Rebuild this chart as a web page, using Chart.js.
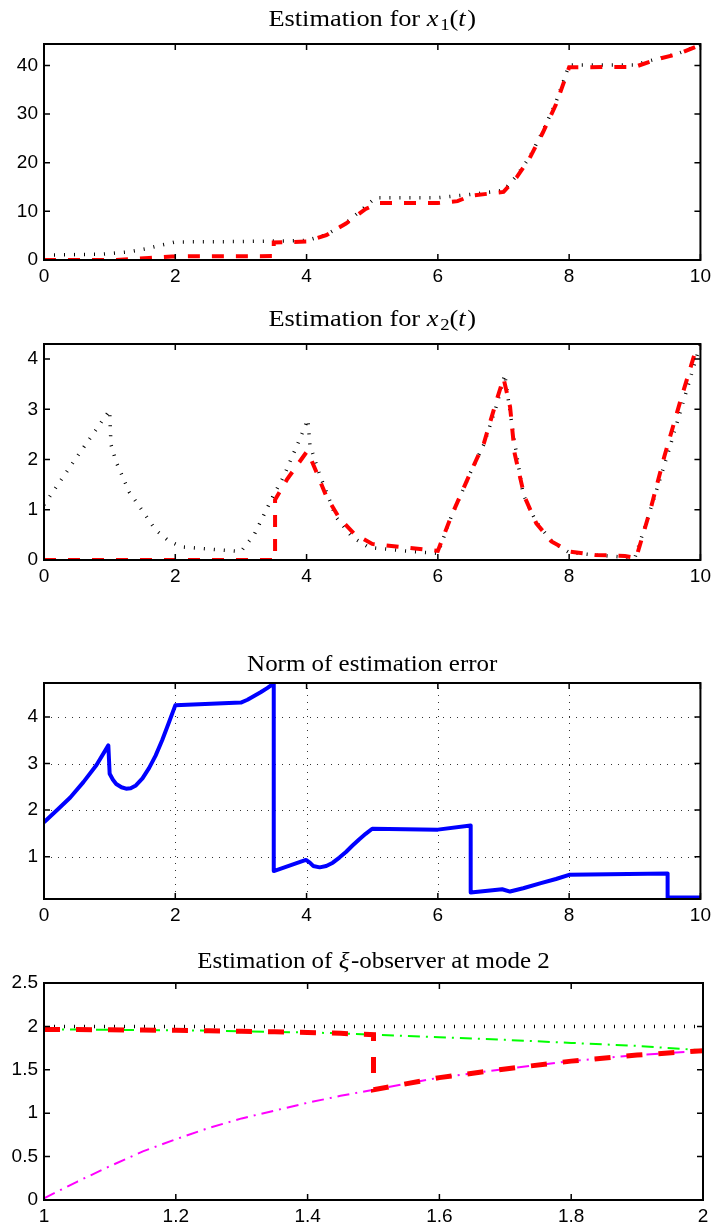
<!DOCTYPE html>
<html><head><meta charset="utf-8">
<script src="https://cdn.jsdelivr.net/npm/chart.js@4.4.1/dist/chart.umd.min.js"></script>
<style>
html,body{margin:0;padding:0;background:#fff;}
#wrap{position:relative;width:716px;height:1227px;overflow:hidden;background:#fff;}
canvas{position:absolute;left:0;}
</style></head><body>
<div id="wrap">
<canvas id="c1" width="716" height="292" style="top:0px"></canvas>
<canvas id="c2" width="716" height="292" style="top:300px"></canvas>
<canvas id="c3" width="716" height="292" style="top:640px"></canvas>
<canvas id="c4" width="716" height="292" style="top:935px"></canvas>
</div>
<script>
// ---------- Panel 1 : x1(t) ----------
const T_X1_TRUE = [0, 0.9, 1.3, 1.55, 1.8, 2, 3, 4, 4.3, 4.6, 4.9, 5.05, 6, 6.45, 7, 7.2, 7.4, 7.6, 7.8, 8, 9, 9.35, 9.65, 10];
const X1_TRUE   = [1.0, 1.2, 1.7, 2.3, 3.1, 3.7, 3.8, 4.0, 5.2, 7.6, 11, 12.8, 12.8, 13.4, 14.3, 17.3, 21.2, 26.5, 32.5, 40.1, 40.1, 41.4, 42.4, 44.3];
const T_X1_EST  = [0, 1.1, 1.3, 1.6, 1.95, 2.2, 3.5, 3.5, 4, 4.3, 4.6, 4.9, 5.1, 6, 6.3, 6.5, 7, 7.2, 7.4, 7.6, 7.8, 8, 9, 9.35, 9.65, 10];
const X1_EST    = [0, 0, 0.15, 0.4, 0.7, 0.75, 0.8, 3.6, 3.8, 5.1, 7.5, 10.5, 11.7, 11.7, 12.1, 13.2, 14.0, 17.0, 21.0, 26.2, 32.0, 39.6, 39.7, 41.3, 42.3, 44.2];

// ---------- Panel 2 : x2(t) ----------
const T_X2_TRUE = [0, 0.5, 1.0, 1.02, 1.1, 1.3, 1.5, 1.7, 1.9, 2.1, 2.5, 3.0, 3.2, 3.5, 3.65, 3.9, 4.02, 4.05, 4.2, 4.45, 4.7, 4.95, 5.5, 6.0, 6.2, 6.5, 6.7, 6.9, 7.02, 7.05, 7.15, 7.3, 7.5, 7.75, 8.0, 8.4, 9.0, 9.25, 9.5, 9.75, 10];
const X2_TRUE   = [1.1, 2.05, 2.98, 2.3, 1.95, 1.35, 0.98, 0.6, 0.38, 0.26, 0.22, 0.17, 0.5, 1.3, 1.66, 2.42, 2.8, 2.3, 1.7, 0.85, 0.45, 0.25, 0.18, 0.13, 0.85, 1.75, 2.3, 3.1, 3.7, 3.4, 2.5, 1.3, 0.75, 0.35, 0.15, 0.1, 0.04, 1.05, 2.1, 3.2, 4.3];
const T_X2_EST  = [0, 3.52, 3.52, 3.7, 4.0, 4.02, 4.15, 4.3, 4.5, 4.72, 5.0, 5.5, 6.0, 6.2, 6.5, 6.7, 6.9, 7.0, 7.1, 7.17, 7.32, 7.5, 7.73, 8.0, 8.4, 8.85, 9.02, 9.25, 9.45, 9.7, 9.93, 10];
const X2_EST    = [0, 0, 1.2, 1.6, 2.15, 2.15, 1.75, 1.27, 0.83, 0.53, 0.32, 0.25, 0.18, 0.86, 1.75, 2.32, 3.2, 3.62, 3.05, 2.12, 1.26, 0.73, 0.37, 0.17, 0.1, 0.08, 0.04, 1.06, 2.06, 3.19, 4.18, 4.3];

// ---------- Panel 3 : norm of estimation error ----------
const T_ERR = [0, 0.2, 0.4, 0.6, 0.8, 0.98, 1.0, 1.05, 1.1, 1.18, 1.25, 1.32, 1.4, 1.5, 1.6, 1.7, 1.8, 1.9, 2.0,
               3.0, 3.1, 3.2, 3.3, 3.4, 3.5, 3.5, 3.99, 4.05, 4.1, 4.2, 4.3, 4.4, 4.5, 4.6, 4.7, 4.8, 4.9, 5.0,
               6.0, 6.5, 6.5, 6.98, 7.1, 7.3, 7.57, 7.8, 8.0, 9.5, 9.5, 10];
const ERR   = [1.74, 2.0, 2.27, 2.6, 2.97, 3.39, 2.78, 2.65, 2.56, 2.49, 2.46, 2.47, 2.53, 2.68, 2.9, 3.17, 3.5, 3.87, 4.25,
               4.31, 4.37, 4.45, 4.53, 4.62, 4.72, 0.69, 0.93, 0.87, 0.8, 0.77, 0.8, 0.87, 0.98, 1.1, 1.24, 1.37, 1.49, 1.6,
               1.58, 1.67, 0.23, 0.30, 0.25, 0.32, 0.43, 0.52, 0.61, 0.64, 0.12, 0.12];

// ---------- Panel 4 : xi-observer at mode 2 ----------
const T_XI      = [1, 1.05, 1.1, 1.15, 1.2, 1.25, 1.3, 1.35, 1.4, 1.45, 1.5, 1.6, 1.7, 1.8, 1.9, 2];
const XI_TRUE   = [2, 2, 2, 2, 2, 2, 2, 2, 2, 2, 2, 2, 2, 2, 2, 2];
const XI_GREEN  = [1.965, 1.963, 1.961, 1.958, 1.955, 1.95, 1.944, 1.937, 1.93, 1.92, 1.905, 1.875, 1.845, 1.81, 1.775, 1.725];
const XI_MAG    = [0.02, 0.21, 0.39, 0.56, 0.7, 0.83, 0.94, 1.03, 1.12, 1.2, 1.27, 1.41, 1.51, 1.6, 1.67, 1.72];
const T_XI_EST  = [1, 1.05, 1.1, 1.15, 1.2, 1.25, 1.3, 1.35, 1.4, 1.45, 1.5, 1.5, 1.6, 1.7, 1.8, 1.9, 2];
const XI_EST    = [1.965, 1.963, 1.961, 1.958, 1.955, 1.95, 1.944, 1.937, 1.93, 1.92, 1.905, 1.27, 1.41, 1.51, 1.6, 1.67, 1.72];

// ---------- ticks ----------
const X_TICKS_A = [0, 2, 4, 6, 8, 10];
const X_LABELS_A = ['0', '2', '4', '6', '8', '10'];
const Y_TICKS_1 = [0, 10, 20, 30, 40];
const Y_LABELS_1 = ['0', '10', '20', '30', '40'];
const Y_TICKS_2 = [0, 1, 2, 3, 4];
const Y_LABELS_2 = ['0', '1', '2', '3', '4'];
const Y_TICKS_3 = [1, 2, 3, 4];
const Y_LABELS_3 = ['1', '2', '3', '4'];
const X_TICKS_4 = [1, 1.2, 1.4, 1.6, 1.8, 2];
const X_LABELS_4 = ['1', '1.2', '1.4', '1.6', '1.8', '2'];
const Y_TICKS_4 = [0, 0.5, 1, 1.5, 2, 2.5];
const Y_LABELS_4 = ['0', '0.5', '1', '1.5', '2', '2.5'];

const TICK_FONT = {family: '"Liberation Sans", Arial, sans-serif', size: 19};
const SERIF = '"Liberation Serif", "Times New Roman", serif';

function pts(ts, vs) { return ts.map((t, i) => ({x: t, y: vs[i]})); }

function boxPlugin(cfg) {
  return {
    id: 'mbox_' + cfg.id,
    beforeDatasetsDraw(chart) {
      if (!cfg.grid) return;
      const ctx = chart.ctx, a = chart.chartArea, x = chart.scales.x, y = chart.scales.y;
      ctx.save();
      ctx.strokeStyle = '#333';
      ctx.lineWidth = 1;
      ctx.setLineDash([1, 6]);
      cfg.xTicks.forEach(v => {
        const px = Math.round(x.getPixelForValue(v)) + 0.5;
        if (px <= a.left + 2 || px >= a.right - 2) return;
        ctx.beginPath(); ctx.moveTo(px, a.bottom); ctx.lineTo(px, a.top); ctx.stroke();
      });
      cfg.yTicks.forEach(v => {
        const py = Math.round(y.getPixelForValue(v)) + 0.5;
        if (py <= a.top + 2 || py >= a.bottom - 2) return;
        ctx.beginPath(); ctx.moveTo(a.left, py); ctx.lineTo(a.right, py); ctx.stroke();
      });
      ctx.restore();
    },
    afterDraw(chart) {
      const ctx = chart.ctx, a = chart.chartArea, x = chart.scales.x, y = chart.scales.y;
      ctx.save();
      ctx.setLineDash([]);
      ctx.strokeStyle = '#000';
      ctx.lineWidth = 1.5;
      const L = 6;
      cfg.xTicks.forEach(v => {
        const px = x.getPixelForValue(v);
        ctx.beginPath();
        ctx.moveTo(px, a.bottom); ctx.lineTo(px, a.bottom - L);
        ctx.moveTo(px, a.top); ctx.lineTo(px, a.top + L);
        ctx.stroke();
      });
      cfg.yTicks.forEach(v => {
        const py = y.getPixelForValue(v);
        ctx.beginPath();
        ctx.moveTo(a.left, py); ctx.lineTo(a.left + L, py);
        ctx.moveTo(a.right, py); ctx.lineTo(a.right - L, py);
        ctx.stroke();
      });
      ctx.lineWidth = 2;
      ctx.strokeRect(a.left, a.top, a.right - a.left, a.bottom - a.top);
      // title
      const S = cfg.titleSize;
      const segs = cfg.title.map(s => {
        const st = s[1];
        let font, dy = 0;
        if (st === 'i') font = 'italic ' + S + 'px ' + SERIF;
        else if (st === 'sub') { font = Math.round(S * 0.7) + 'px ' + SERIF; dy = S * 0.22; }
        else font = S + 'px ' + SERIF;
        ctx.font = font;
        return {text: s[0], font, dy, w: ctx.measureText(s[0]).width + (st === 'i' ? 1.5 : 0)};
      });
      const total = segs.reduce((p, s) => p + s.w, 0);
      const sx = cfg.titleStretch;
      let cx = (a.left + a.right) / 2 - total * sx / 2;
      ctx.fillStyle = '#000';
      ctx.textBaseline = 'middle';
      ctx.textAlign = 'left';
      segs.forEach(s => {
        ctx.save();
        ctx.translate(cx, cfg.titleY + s.dy);
        ctx.scale(sx, 1);
        ctx.font = s.font;
        ctx.fillText(s.text, 0, 0);
        ctx.restore();
        cx += s.w * sx;
      });
      ctx.restore();
    }
  };
}

function makeChart(cfg) {
  const el = document.getElementById(cfg.id);
  return new Chart(el, {
    type: 'line',
    data: {datasets: cfg.datasets},
    options: {
      responsive: false,
      animation: false,
      events: [],
      layout: {padding: {top: cfg.padTop, right: 13, left: 0, bottom: 0}},
      plugins: {legend: {display: false}, tooltip: {enabled: false}, title: {display: false}},
      elements: {point: {radius: 0}, line: {tension: 0}},
      scales: {
        x: {
          type: 'linear', min: cfg.xMin, max: cfg.xMax,
          afterBuildTicks: s => { s.ticks = cfg.xTicks.map(v => ({value: v})); },
          afterFit: s => { s.height = cfg.xAxisH; },
          grid: {display: false, drawTicks: false}, border: {display: false},
          ticks: {font: TICK_FONT, color: '#000', padding: cfg.xPad, maxRotation: 0, autoSkip: false,
                  callback: (v, i) => cfg.xLabels[i]}
        },
        y: {
          type: 'linear', min: cfg.yMin, max: cfg.yMax,
          afterBuildTicks: s => { s.ticks = cfg.yTicks.map(v => ({value: v})); },
          afterFit: s => { s.width = 44; },
          grid: {display: false, drawTicks: false}, border: {display: false},
          ticks: {font: TICK_FONT, color: '#000', padding: 6, autoSkip: false,
                  callback: (v, i) => cfg.yLabels[i]}
        }
      }
    },
    plugins: [boxPlugin(cfg)]
  });
}

const dotted = (data, w) => ({data, borderColor: '#000', borderWidth: w || 3.5, borderDash: [1, 9], fill: false, order: 5});
const redDash = (data, w, dash) => ({data, borderColor: '#ff0000', borderWidth: w, borderDash: dash, fill: false, order: 0});

makeChart({
  id: 'c1', padTop: 44, xAxisH: 32, xPad: 5, grid: false,
  xMin: 0, xMax: 10, yMin: 0, yMax: 44.4,
  xTicks: X_TICKS_A, xLabels: X_LABELS_A, yTicks: Y_TICKS_1, yLabels: Y_LABELS_1,
  title: [['Estimation for ', 'n'], ['x', 'i'], ['1', 'sub'], ['(', 'n'], ['t', 'i'], [')', 'n']],
  titleY: 20, titleSize: 24, titleStretch: 1.1,
  datasets: [dotted(pts(T_X1_TRUE, X1_TRUE)), redDash(pts(T_X1_EST, X1_EST), 4, [12, 12])]
});
makeChart({
  id: 'c2', padTop: 44, xAxisH: 32, xPad: 5, grid: false,
  xMin: 0, xMax: 10, yMin: 0, yMax: 4.3,
  xTicks: X_TICKS_A, xLabels: X_LABELS_A, yTicks: Y_TICKS_2, yLabels: Y_LABELS_2,
  title: [['Estimation for ', 'n'], ['x', 'i'], ['2', 'sub'], ['(', 'n'], ['t', 'i'], [')', 'n']],
  titleY: 20, titleSize: 24, titleStretch: 1.1,
  datasets: [dotted(pts(T_X2_TRUE, X2_TRUE)), redDash(pts(T_X2_EST, X2_EST), 4, [12, 12])]
});
makeChart({
  id: 'c3', padTop: 43, xAxisH: 33, xPad: 5, grid: true,
  xMin: 0, xMax: 10, yMin: 0.09, yMax: 4.73,
  xTicks: X_TICKS_A, xLabels: X_LABELS_A, yTicks: Y_TICKS_3, yLabels: Y_LABELS_3,
  title: [['Norm of estimation error', 'n']],
  titleY: 25, titleSize: 24, titleStretch: 1.04,
  datasets: [{data: pts(T_ERR, ERR), borderColor: '#0000ff', borderWidth: 4, borderJoinStyle: 'round', fill: false}]
});
makeChart({
  id: 'c4', padTop: 48, xAxisH: 27, xPad: 5, grid: false,
  xMin: 1, xMax: 2, yMin: 0, yMax: 2.5,
  xTicks: X_TICKS_4, xLabels: X_LABELS_4, yTicks: Y_TICKS_4, yLabels: Y_LABELS_4,
  title: [['Estimation of ', 'n'], ['ξ', 'i'], ['-observer at mode 2', 'n']],
  titleY: 27, titleSize: 24, titleStretch: 1.04,
  datasets: [
    dotted(pts(T_XI, XI_TRUE)),
    {data: pts(T_XI, XI_GREEN), borderColor: '#00ff00', borderWidth: 2, borderDash: [12, 6, 2, 6], fill: false, order: 3},
    {data: pts(T_XI, XI_MAG), borderColor: '#ff00ff', borderWidth: 2, borderDash: [12, 6, 2, 6], fill: false, order: 2},
    redDash(pts(T_XI_EST, XI_EST), 5, [16, 16])
  ]
});
</script>
</body></html>
